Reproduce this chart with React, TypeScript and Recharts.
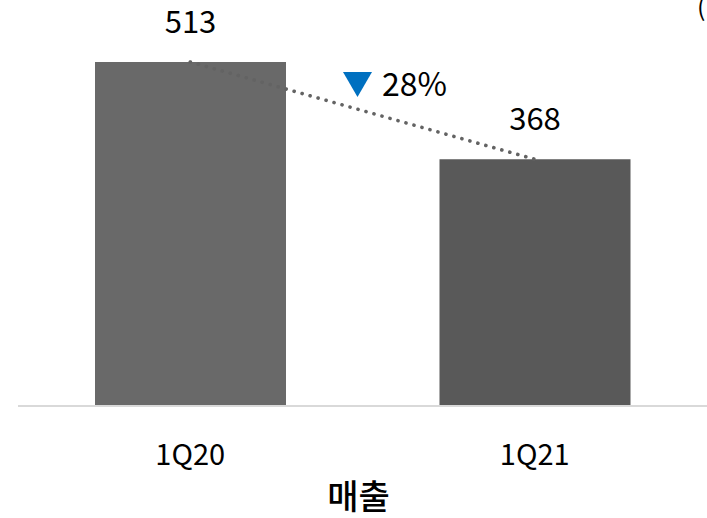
import { ComposedChart, Bar, Line, XAxis, YAxis, Cell, LabelList, Label, Customized } from 'recharts';

const quarters = ['1Q20', '1Q21'];
const revenue = [513, 368];
const barColors = ['#696969', '#595959'];
const axisTitle = '매출';
const unitNote = '(단위: 억원)';

const data = quarters.map((quarter, i) => ({ quarter, revenue: revenue[i] }));
const changePct = Math.round((1 - revenue[1] / revenue[0]) * 100);

const FONT = '"Noto Sans CJK KR", "Noto Sans", sans-serif';

// blue down arrow + percentage between the bars, plus the clipped unit note
function ChangeBadge() {
  return (
    <g>
      <polygon points="343,72 372,72 357.5,97" fill="#0070C0" />
      <text x={382} y={96} fontSize={32} fill="#000">
        {`${changePct}%`}
      </text>
      <text x={697} y={16} fontSize={25} fill="#000">
        {unitNote}
      </text>
    </g>
  );
}

export default function App() {
  return (
    <div style={{ position: 'fixed', left: 0, top: 0, width: 707, height: 518, background: '#fff', fontFamily: FONT }}>
      <ComposedChart
        width={707}
        height={518}
        data={data}
        margin={{ top: 62, right: 0, left: 18, bottom: 0 }}
        barCategoryGap={0}
      >
        <XAxis
          dataKey="quarter"
          height={112}
          axisLine={{ stroke: '#d9d9d9', strokeWidth: 2 }}
          tickLine={false}
          tickSize={0}
          tickMargin={38}
          tick={{ fontSize: 29, fill: '#000' }}
        >
          <Label value={axisTitle} position="insideBottom" offset={9} dx={-4} fontSize={34} fontWeight={500} fill="#000" />
        </XAxis>
        <YAxis hide domain={[0, 'dataMax']} />
        <Bar dataKey="revenue" barSize={191} isAnimationActive={false}>
          {data.map((d, i) => (
            <Cell key={d.quarter} fill={barColors[i]} />
          ))}
          <LabelList dataKey="revenue" position="top" offset={29} fontSize={31} fill="#000" />
        </Bar>
        <Line
          dataKey="revenue"
          stroke="#636363"
          strokeWidth={3.6}
          strokeDasharray="0.1 8.2"
          strokeLinecap="round"
          dot={false}
          activeDot={false}
          isAnimationActive={false}
        />
        <Customized component={ChangeBadge} />
      </ComposedChart>
    </div>
  );
}
